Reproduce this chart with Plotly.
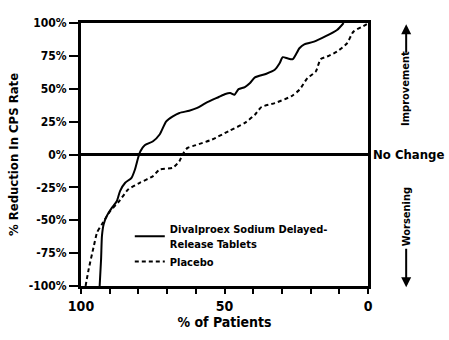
import plotly.graph_objects as go

# Data
divalproex_x = [93.5, 93.0, 92.7, 92.1, 91.0, 89.2, 87.5, 86.4, 84.6, 82.4, 81.2, 80.1, 79.3, 77.8, 74.9, 72.6,
                70.3, 68.0, 65.7, 62.3, 59.5, 56.6, 52.0, 49.7, 48.0, 46.5, 45.1, 42.9, 41.1, 39.4, 35.4, 32.5,
                30.8, 29.7, 27.9, 26.2, 23.9, 22.2, 18.8, 10.8, 8.5]
divalproex_y = [-100, -79.5, -61.9, -53.0, -46.7, -40.4, -35.4, -27.8, -21.5, -17.7, -11.4, -2.5, 2.5, 7.1, 10.1, 15.2,
                25.2, 29.0, 31.6, 33.3, 35.4, 39.1, 43.7, 46.0, 46.7, 45.5, 49.7, 51.3, 54.3, 58.6, 61.4, 64.4,
                69.4, 74.0, 73.0, 72.5, 80.8, 83.8, 85.8, 94.7, 100]

placebo_x = [98.4, 97.3, 95.5, 94.4, 92.7, 89.8, 86.9, 83.5, 79.5, 74.9, 72.6, 68.0, 65.7, 64.6, 62.9, 60.0,
             54.3, 48.6, 42.9, 39.4, 37.1, 32.5, 26.8, 23.9, 21.1, 18.2, 16.5, 14.2, 10.8, 7.3, 5.1, 1.6, 0.4]
placebo_y = [-100, -87.0, -69.4, -59.3, -53.0, -42.9, -36.1, -26.5, -21.5, -16.4, -11.4, -10.1, -5.0, 0.0, 5.0, 7.1,
             11.4, 17.7, 24.0, 30.3, 36.1, 39.1, 44.2, 49.2, 58.1, 63.1, 72.5, 74.5, 78.3, 84.6, 93.4, 97.7, 99.2]

y_tick_vals = [-100, -75, -50, -25, 0, 25, 50, 75, 100]
y_tick_text = ["-100%", "-75%", "-50%", "-25%", "0%", "25%", "50%", "75%", "100%"]
x_tick_vals = [100, 90, 80, 70, 60, 50, 40, 30, 20, 10, 0]
x_tick_text = ["100", "", "", "", "", "50", "", "", "", "", "0"]

FONT = "DejaVu Sans Condensed, Liberation Sans Narrow, Arial Narrow, sans-serif"

fig = go.Figure()
fig.add_trace(go.Scatter(x=divalproex_x, y=divalproex_y, mode="lines",
                         name="Divalproex Sodium Delayed-<br>Release Tablets",
                         line=dict(color="black", width=2, shape="spline", smoothing=0.6)))
fig.add_trace(go.Scatter(x=placebo_x, y=placebo_y, mode="lines", name="Placebo",
                         line=dict(color="black", width=2, dash="4px,3px", shape="spline", smoothing=0.6)))

fig.update_layout(
    width=449, height=340,
    margin=dict(l=77, r=81, t=23, b=53),
    paper_bgcolor="white", plot_bgcolor="white",
    font=dict(family=FONT, size=12, color="black", weight="bold"),
    showlegend=True,
    legend=dict(x=0.17, y=0.268, xanchor="left", yanchor="top", bgcolor="rgba(0,0,0,0)",
                font=dict(family=FONT, size=11, color="black", weight="bold"),
                tracegroupgap=0, itemwidth=30),
    xaxis=dict(range=[100, 0], tickvals=x_tick_vals, ticktext=x_tick_text,
               ticks="outside", ticklen=5, tickwidth=2, tickcolor="black",
               showline=True, linecolor="black", linewidth=3, mirror=True,
               showgrid=False, zeroline=False,
               tickfont=dict(family=FONT, size=14, weight="bold"),
               title=dict(text="% of Patients", font=dict(family=FONT, size=14, weight="bold"), standoff=4)),
    yaxis=dict(range=[-100, 100], tickvals=y_tick_vals, ticktext=y_tick_text,
               ticks="outside", ticklen=9, tickwidth=2, tickcolor="black",
               showline=True, linecolor="black", linewidth=3, mirror=True,
               showgrid=False, zeroline=True, zerolinecolor="black", zerolinewidth=2.5,
               tickfont=dict(family=FONT, size=12, weight="bold"),
               title=dict(text="% Reduction In CPS Rate", font=dict(family=FONT, size=13, weight="bold"), standoff=8)),
)

fig.add_annotation(x=1.012, y=0.5, xref="paper", yref="paper", text="No Change", showarrow=False,
                   xanchor="left", yanchor="middle", font=dict(family=FONT, size=13, weight="bold"))
fig.add_annotation(x=1.133, y=0.75, xref="paper", yref="paper", text="Improvement", showarrow=False,
                   textangle=-90, xanchor="center", yanchor="middle", font=dict(family=FONT, size=11, weight="bold"))
fig.add_annotation(x=1.133, y=0.262, xref="paper", yref="paper", text="Worsening", showarrow=False,
                   textangle=-90, xanchor="center", yanchor="middle", font=dict(family=FONT, size=11, weight="bold"))
fig.add_annotation(x=1.133, y=0.995, xref="paper", yref="paper", text="", showarrow=True,
                   ax=0, ay=30, arrowhead=2, arrowsize=1, arrowwidth=2, arrowcolor="black")
fig.add_annotation(x=1.133, y=-0.005, xref="paper", yref="paper", text="", showarrow=True,
                   ax=0, ay=-40, arrowhead=2, arrowsize=1, arrowwidth=2, arrowcolor="black")

fig.write_html("out.html")
